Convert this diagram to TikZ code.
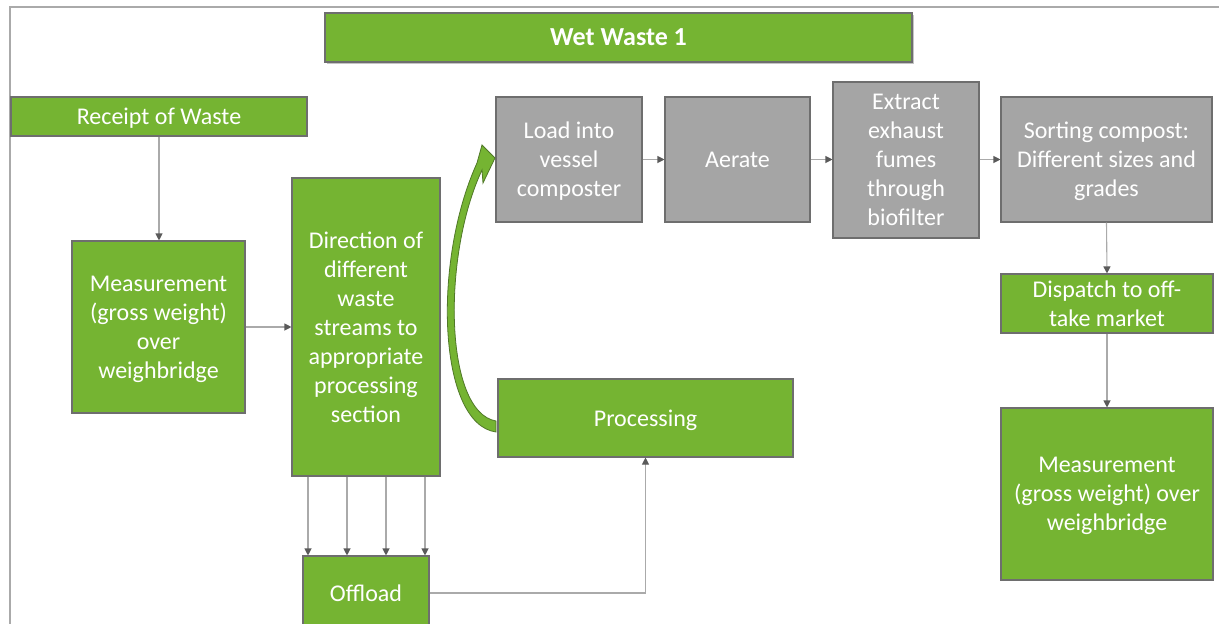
\documentclass[tikz,border=0pt]{standalone}
\usepackage{fontspec}
\setmainfont{Carlito}
\usetikzlibrary{arrows.meta,shadows}
\definecolor{boxgreen}{RGB}{117,180,50}
\definecolor{boxgray}{RGB}{165,165,165}
\definecolor{edgegray}{RGB}{110,110,110}
\definecolor{linegray}{RGB}{170,170,170}
\definecolor{tipgray}{RGB}{90,90,90}
\definecolor{framegray}{RGB}{170,170,170}
\definecolor{arrowedge}{RGB}{80,120,40}
\tikzset{
  base/.style={draw=edgegray, line width=1.1pt, inner sep=0pt, align=center,
    text=white, text depth=0pt, font=\fontsize{24}{29}\selectfont},
  gbox/.style={base, fill=boxgreen},
  graybox/.style={base, fill=boxgray},
  conn/.style={draw=linegray, line width=1.1pt,
    -{Triangle[length=7pt,width=7pt,color=tipgray]}},
}
\begin{document}
\begin{tikzpicture}[x=1pt,y=-1pt]
\useasboundingbox (0,0) rectangle (1219,624);
\clip (0,0) rectangle (1219,624);
\fill[white] (0,0) rectangle (1219,624);
% frame
\coordinate (fr1) at (1219,7);
\coordinate (fr2) at (10,7);
\coordinate (fr3) at (10,624);
\draw[framegray, line width=1.5pt] (fr1) -- (fr2) -- (fr3);
% title
\node[gbox, minimum width=587pt, minimum height=49pt,
  drop shadow={opacity=0.45, shadow xshift=1.5pt, shadow yshift=-2pt},
  font=\fontsize{26}{30}\selectfont\bfseries] (title) at (618.5,37.5) {Wet Waste 1};
% left column
\node[gbox, minimum width=296pt, minimum height=39pt] (receipt) at (159,116.5) {Receipt of Waste};
\node[gbox, minimum width=173pt, minimum height=172pt] (meas1) at (158.5,327)
  {Measurement\\(gross weight)\\over\\weighbridge};
\node[gbox, minimum width=148pt, minimum height=298pt] (dir) at (366,327)
  {Direction of\\different\\waste\\streams to\\appropriate\\processing\\section};
\node[gbox, minimum width=126pt, minimum height=74pt] (offload) at (366,593) {Offload};
\node[gbox, minimum width=295pt, minimum height=78pt] (proc) at (645.5,418) {Processing};
% top row
\node[graybox, minimum width=146pt, minimum height=125pt] (load) at (569,159.5)
  {Load into\\vessel\\composter};
\node[graybox, minimum width=145pt, minimum height=125pt] (aerate) at (737.5,159.5) {Aerate};
\node[graybox, minimum width=146pt, minimum height=156pt] (extract) at (906,160)
  {Extract\\exhaust\\fumes\\through\\biofilter};
\node[graybox, minimum width=211pt, minimum height=125pt] (sort) at (1106.5,159.5)
  {Sorting compost:\\Different sizes and\\grades};
% right column
\node[gbox, minimum width=212pt, minimum height=59pt] (dispatch) at (1107,303.5)
  {Dispatch to off-\\take market};
\node[gbox, minimum width=212pt, minimum height=172pt] (meas2) at (1107,494)
  {Measurement\\(gross weight) over\\weighbridge};
% connectors
\draw[conn] (receipt.south) -- (receipt.south |- meas1.north);
\draw[conn] (meas1.east) -- (dir.west);
\foreach \dx in {-58,-19,20,59}{
  \draw[conn] ([xshift=\dx pt]dir.south) -- ([xshift=\dx pt]offload.north);
}
\draw[conn] (offload.east) -| (proc.south);
\draw[conn] (load.east) -- (aerate.west);
\draw[conn] (aerate.east) -- (aerate.east -| extract.west);
\draw[conn] (extract.east |- sort.west) -- (sort.west);
\draw[conn] (sort.south) -- (dispatch.north);
\draw[conn] (dispatch.south) -- (meas2.north);
% curved green arrow from Processing to Load
\filldraw[fill=boxgreen, draw=arrowedge, line width=0.8pt, line join=miter]
  (496,432) .. controls (438,424) and (432,262) .. (477,163)
  -- (482,145) -- (495,158) -- (483,183) -- (482,170)
  .. controls (442,255) and (444,412) .. (496,421) -- cycle;
\end{tikzpicture}
\end{document}
